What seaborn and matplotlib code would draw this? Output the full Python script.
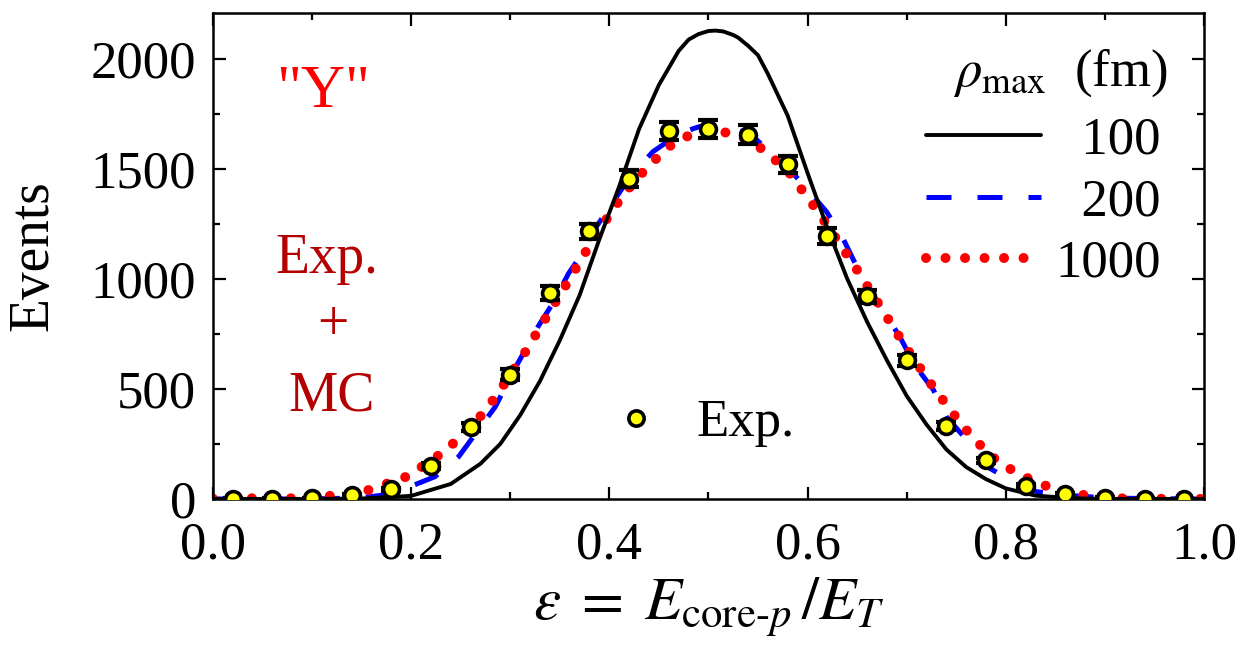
import numpy as np
import pandas as pd
import matplotlib
matplotlib.use("Agg")
import matplotlib.pyplot as plt
import seaborn as sns
from matplotlib.lines import Line2D
from matplotlib.ticker import MultipleLocator, FormatStrFormatter

# Experimental points (eps bin centres, counts, errors)
exp_eps = [0.02, 0.06, 0.10, 0.14, 0.18, 0.22, 0.26, 0.30, 0.34, 0.38, 0.42, 0.46, 0.50,
           0.54, 0.58, 0.62, 0.66, 0.70, 0.74, 0.78, 0.82, 0.86, 0.90, 0.94, 0.98]
exp_counts = [2, 2, 3, 18, 45, 150, 325, 565, 935, 1215, 1455, 1670, 1680,
              1655, 1520, 1195, 920, 630, 330, 175, 60, 22, 5, 2, 1]
exp_err = [2, 2, 2, 4, 7, 12, 18, 24, 31, 35, 38, 41, 41,
           41, 39, 35, 30, 25, 18, 13, 8, 5, 3, 2, 1]

# rho_max = 100 fm
eps_100 = [0.0, 0.10, 0.15, 0.20, 0.24, 0.27, 0.29, 0.31, 0.33, 0.35, 0.37, 0.39, 0.41, 0.43,
           0.45, 0.47, 0.48, 0.49, 0.50, 0.507, 0.515, 0.525, 0.53, 0.54, 0.55, 0.56, 0.58,
           0.60, 0.62, 0.64, 0.66, 0.68, 0.70, 0.72, 0.74, 0.76, 0.78, 0.80, 0.83, 0.87,
           0.90, 1.0]
ev_100 = [0, 0, 2, 14, 68, 160, 250, 380, 535, 720, 925, 1180, 1420, 1680,
          1880, 2035, 2086, 2111, 2125, 2127, 2123, 2107, 2095, 2058, 2015, 1930, 1740,
          1480, 1230, 1000, 805, 630, 468, 338, 225, 145, 90, 48, 15, 3,
          0, 0]

# rho_max = 200 fm
eps_200 = [0.0, 0.10, 0.15, 0.172, 0.195, 0.224, 0.248, 0.269, 0.285, 0.305, 0.328, 0.343,
           0.359, 0.374, 0.387, 0.404, 0.421, 0.444, 0.471, 0.491, 0.523, 0.545, 0.579,
           0.596, 0.619, 0.634, 0.648, 0.661, 0.678, 0.693, 0.708, 0.727, 0.740, 0.759,
           0.781, 0.804, 0.831, 0.858, 0.90, 0.95, 1.0]
ev_200 = [0, 0, 5, 18, 49, 101, 192, 321, 419, 594, 782, 889,
          1025, 1123, 1237, 1350, 1464, 1577, 1661, 1691, 1691, 1645, 1509,
          1426, 1305, 1199, 1070, 964, 843, 737, 609, 495, 374, 276,
          147, 86, 33, 18, 5, 1, 0]

# rho_max = 1000 fm
eps_1000 = [0.0, 0.039, 0.079, 0.119, 0.158, 0.197, 0.236, 0.272, 0.287, 0.313, 0.337, 0.361,
            0.385, 0.411, 0.427, 0.446, 0.465, 0.484, 0.503, 0.523, 0.544, 0.563, 0.582,
            0.596, 0.610, 0.637, 0.650, 0.675, 0.700, 0.727, 0.757, 0.775, 0.792, 0.813,
            0.833, 0.853, 0.872, 0.912, 0.95, 1.0]
ev_1000 = [2, 3, 3, 14, 41, 104, 223, 385, 475, 651, 830, 1007,
           1189, 1362, 1452, 1540, 1618, 1658, 1672, 1661, 1623, 1558, 1479,
           1393, 1308, 1128, 1040, 862, 684, 506, 328, 241, 169, 114,
           71, 41, 21, 3, 1, 0]

rho_labels = ["\u2007100", "\u2007200", "1000"]

sns.set_theme(style="ticks")
plt.rcParams["font.family"] = ["Liberation Serif", "DejaVu Serif"]
plt.rcParams["mathtext.fontset"] = "stix"
plt.rcParams["text.color"] = "black"
plt.rcParams["axes.labelcolor"] = "black"
plt.rcParams["xtick.color"] = "black"
plt.rcParams["ytick.color"] = "black"

fig, ax = plt.subplots(figsize=(12.52, 6.48), dpi=100)
fig.subplots_adjust(left=0.170, right=0.9617, top=0.980, bottom=0.230)

df_100 = pd.DataFrame({"eps": eps_100, "ev": ev_100})
df_200 = pd.DataFrame({"eps": eps_200, "ev": ev_200})
df_1000 = pd.DataFrame({"eps": eps_1000, "ev": ev_1000})
df_exp = pd.DataFrame({"eps": exp_eps, "ev": exp_counts, "err": exp_err})

sns.lineplot(data=df_100, x="eps", y="ev", ax=ax, color="black", lw=2.8,
             sort=False, estimator=None, zorder=3)
sns.lineplot(data=df_200, x="eps", y="ev", ax=ax, color="#0000FF", lw=3.6,
             linestyle=(0, (5, 5.2)), sort=False, estimator=None, zorder=2)
sns.lineplot(data=df_1000, x="eps", y="ev", ax=ax, color="#FF0000", lw=7.2,
             sort=False, estimator=None, zorder=2)
red_line = ax.lines[-1]
red_line.set_linestyle((0, (0.001, 1.95)))
red_line.set_dash_capstyle("round")

ax.errorbar(df_exp["eps"], df_exp["ev"], yerr=df_exp["err"], fmt="none",
            ecolor="black", elinewidth=2, capsize=7, capthick=3, zorder=4)
sns.scatterplot(data=df_exp, x="eps", y="ev", ax=ax, s=130, color="#FFFF00",
                edgecolor="black", linewidth=2.6, zorder=5)

ax.set_xlim(0, 1.0)
ax.set_ylim(0, 2207)
ax.xaxis.set_major_locator(MultipleLocator(0.2))
ax.xaxis.set_minor_locator(MultipleLocator(0.1))
ax.yaxis.set_major_locator(MultipleLocator(500))
ax.yaxis.set_minor_locator(MultipleLocator(250))
ax.xaxis.set_major_formatter(FormatStrFormatter("%.1f"))
ax.tick_params(which="both", direction="in", top=True, right=True, width=1.6,
               labelsize=38, colors="black")
ax.tick_params(which="major", length=9)
ax.tick_params(which="minor", length=5)
ax.tick_params(axis="x", pad=16)
ax.tick_params(axis="y", pad=12)
for sp in ax.spines.values():
    sp.set_visible(True)
    sp.set_linewidth(1.8)
    sp.set_color("black")

ax.set_ylabel("Events", fontsize=40)
ax.set_xlabel(r"$\varepsilon\;=\;E_{\mathrm{core}\text{-}p}\,/E_T$", fontsize=44)
ax.yaxis.set_label_coords(-0.155, 0.5)
ax.xaxis.set_label_coords(0.5, -0.158)

# annotations on the left
ax.text(0.111, 0.807, '"Y"', color="#FF0000", fontsize=44, ha="center",
        va="baseline", transform=ax.transAxes)
ax.text(0.115, 0.465, "Exp.", color="#B40000", fontsize=40, ha="center",
        va="baseline", transform=ax.transAxes)
ax.text(0.121, 0.327, "+", color="#B40000", fontsize=40, ha="center",
        va="baseline", transform=ax.transAxes)
ax.text(0.120, 0.183, "MC", color="#B40000", fontsize=40, ha="center",
        va="baseline", transform=ax.transAxes)

# legend for the MC curves
ax.text(0.855, 0.85, r"$\rho_{\mathrm{max}}$  (fm)", fontsize=38, ha="center",
        va="baseline", transform=ax.transAxes)
h100 = Line2D([], [], color="black", lw=2.8)
h200 = Line2D([], [], color="#0000FF", lw=3.6, linestyle=(0, (5, 5.2)))
h1000 = Line2D([], [], color="#FF0000", lw=7.2, linestyle=(0, (0.001, 1.95)),
               dash_capstyle="round")
leg1 = ax.legend([h100, h200, h1000], rho_labels, loc="upper left",
                 bbox_to_anchor=(0.7195, 0.786), frameon=False, fontsize=38,
                 handlelength=2.17, handletextpad=0.28, labelspacing=0.25,
                 borderpad=0, borderaxespad=0)
ax.add_artist(leg1)

hexp = Line2D([], [], color="none", marker="o", markersize=11,
              markerfacecolor="#FFFF00", markeredgecolor="black", markeredgewidth=2.6)
ax.legend([hexp], ["Exp."], loc="upper left", bbox_to_anchor=(0.40, 0.205),
          frameon=False, fontsize=38, handlelength=1.0, handletextpad=0.65,
          borderpad=0, borderaxespad=0)

fig.savefig("out.png", dpi=100)
